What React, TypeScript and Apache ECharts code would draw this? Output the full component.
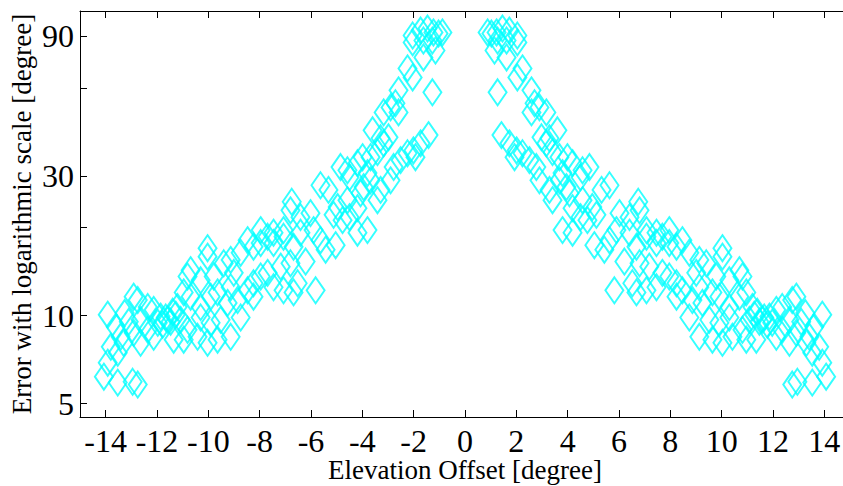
import React, { useEffect, useRef } from "react";
import * as echarts from "echarts";

const xTickValues = [-14, -12, -10, -8, -6, -4, -2, 0, 2, 4, 6, 8, 10, 12, 14];
const yTickValues = [5, 10, 20, 30, 60, 90];
const yLabelValues = [5, 10, 30, 90];

const leftPoints: [number, number][] = [
  [-2.04, 90.7], [-1.73, 94.3], [-1.46, 95.8], [-1.23, 92.9], [-1.03, 92.1], [-0.88, 92.9],
  [-1.62, 87.2], [-1.27, 87.2], [-2.04, 85.9], [-1.15, 80.6], [-1.62, 76.3], [-2.24, 70.0],
  [-2.04, 65.2], [-1.27, 58.0], [-2.59, 58.9], [-2.71, 53.2], [-2.59, 49.5], [-3.17, 49.5],
  [-2.9, 51.5], [-3.6, 43.0], [-3.29, 40.4], [-2.98, 40.7], [-1.42, 41.4], [-1.73, 38.8],
  [-2.01, 36.7], [-2.24, 35.9], [-1.93, 34.8], [-2.51, 34.0], [-2.78, 32.2], [-3.17, 38.8],
  [-3.41, 36.2], [-3.68, 34.8], [-3.99, 34.8], [-4.19, 33.2], [-4.58, 31.4], [-4.85, 32.2],
  [-4.5, 29.7], [-3.8, 30.7], [-3.68, 29.0], [-2.9, 29.0], [-3.29, 26.9], [-3.41, 24.8],
  [-3.95, 27.5], [-4.07, 26.2], [-5.63, 27.9], [-5.32, 26.9], [-4.58, 24.8], [-4.19, 23.3],
  [-4.96, 23.5], [-5.12, 22.1], [-4.77, 21.2], [-4.5, 21.7], [-3.8, 19.6], [-4.19, 19.2],
  [-6.8, 22.9], [-7.07, 19.6], [-6.41, 21.7], [-6.02, 22.4], [-5.9, 19.6], [-6.41, 19.2],
  [-5.63, 18.1], [-6.21, 15.3], [-5.82, 12.2], [-6.52, 12.9], [-5.43, 16.8], [-5.04, 17.4],
  [-10.03, 15.9], [-10.69, 14.3], [-10.81, 13.6], [-10.3, 13.2], [-9.79, 13.6], [-9.4, 15.1],
  [-9.13, 15.5], [-8.74, 16.4], [-8.47, 18.1], [-8.24, 17.2], [-7.96, 17.7], [-7.69, 18.6],
  [-7.46, 17.7], [-7.07, 18.6], [-6.68, 17.2], [-6.8, 15.1], [-7.18, 14.7], [-7.69, 14.0],
  [-7.96, 13.6], [-8.24, 12.9], [-8.47, 12.2], [-8.24, 11.6], [-7.46, 12.5], [-7.07, 12.2],
  [-6.68, 12.0], [-9.01, 14.0], [-9.13, 12.5], [-8.86, 11.3], [-9.25, 11.05], [-9.64, 12.0],
  [-9.91, 11.6], [-10.3, 10.7], [-10.69, 11.6], [-10.96, 12.0], [-11.2, 10.7], [-11.08, 9.67],
  [-10.81, 8.94], [-10.42, 8.46], [-10.03, 8.07], [-9.64, 8.27], [-9.13, 8.46], [-9.52, 9.67],
  [-9.91, 9.45], [-10.3, 9.85], [-8.74, 9.85], [-11.58, 9.67], [-11.86, 9.92], [-11.97, 9.45],
  [-12.13, 10.46], [-12.36, 10.7], [-12.64, 9.67], [-12.36, 8.94], [-12.13, 8.46], [-12.64, 8.07],
  [-12.91, 8.73], [-13.1, 9.52], [-12.75, 11.3], [-12.91, 11.6], [-13.26, 10.2], [-13.61, 9.15],
  [-13.92, 10.07], [-13.8, 7.82], [-13.53, 7.46], [-13.3, 8.07], [-13.42, 8.46], [-13.92, 6.9],
  [-14.07, 6.18], [-13.53, 5.9], [-12.95, 5.94], [-12.75, 5.81], [-11.35, 8.27], [-10.96, 8.27],
  [-7.46, 19.2], [-7.96, 19.6], [-10.03, 17.0], [-11.66, 9.85], [-11.47, 9.52], [-11.27, 10.07],
  [-11.78, 9.3], [-11.39, 10.3], [-6.75, 24.5],
];

const rightPoints: [number, number][] = [
  [2.04, 90.7], [1.73, 94.3], [1.46, 95.8], [1.23, 92.9], [1.03, 92.1], [0.88, 92.9],
  [1.62, 87.2], [1.27, 87.2], [2.04, 85.9], [1.15, 80.6], [1.62, 76.3], [2.24, 70.0],
  [2.04, 65.2], [1.27, 58.0], [2.59, 58.9], [2.71, 53.2], [2.59, 49.5], [3.17, 49.5],
  [2.9, 51.5], [3.6, 43.0], [3.29, 40.4], [2.98, 40.7], [1.42, 41.4], [1.73, 38.8],
  [2.01, 36.7], [2.24, 35.9], [1.93, 34.8], [2.51, 34.0], [2.78, 32.2], [3.17, 38.8],
  [3.41, 36.2], [3.68, 34.8], [3.99, 34.8], [4.19, 33.2], [4.58, 31.4], [4.85, 32.2],
  [4.5, 29.7], [3.8, 30.7], [3.68, 29.0], [2.9, 29.0], [3.29, 26.9], [3.41, 24.8],
  [3.95, 27.5], [4.07, 26.2], [5.63, 27.9], [5.32, 26.9], [4.58, 24.8], [4.19, 23.3],
  [4.96, 23.5], [5.12, 22.1], [4.77, 21.2], [4.5, 21.7], [3.8, 19.6], [4.19, 19.2],
  [6.8, 22.9], [7.07, 19.6], [6.41, 21.7], [6.02, 22.4], [5.9, 19.6], [6.41, 19.2],
  [5.63, 18.1], [6.21, 15.3], [5.82, 12.2], [6.52, 12.9], [5.43, 16.8], [5.04, 17.4],
  [10.03, 15.9], [10.69, 14.3], [10.81, 13.6], [10.3, 13.2], [9.79, 13.6], [9.4, 15.1],
  [9.13, 15.5], [8.74, 16.4], [8.47, 18.1], [8.24, 17.2], [7.96, 17.7], [7.69, 18.6],
  [7.46, 17.7], [7.07, 18.6], [6.68, 17.2], [6.8, 15.1], [7.18, 14.7], [7.69, 14.0],
  [7.96, 13.6], [8.24, 12.9], [8.47, 12.2], [8.24, 11.6], [7.46, 12.5], [7.07, 12.2],
  [6.68, 12.0], [9.01, 14.0], [9.13, 12.5], [8.86, 11.3], [9.25, 11.05], [9.64, 12.0],
  [9.91, 11.6], [10.3, 10.7], [10.69, 11.6], [10.96, 12.0], [11.2, 10.7], [11.08, 9.67],
  [10.81, 8.94], [10.42, 8.46], [10.03, 8.07], [9.64, 8.27], [9.13, 8.46], [9.52, 9.67],
  [9.91, 9.45], [10.3, 9.85], [8.74, 9.85], [11.58, 9.67], [11.86, 9.92], [11.97, 9.45],
  [12.13, 10.46], [12.36, 10.7], [12.64, 9.67], [12.36, 8.94], [12.13, 8.46], [12.64, 8.07],
  [12.91, 8.73], [13.1, 9.52], [12.75, 11.3], [12.91, 11.6], [13.26, 10.2], [13.61, 9.15],
  [13.92, 10.07], [13.8, 7.82], [13.53, 7.46], [13.3, 8.07], [13.42, 8.46], [13.92, 6.9],
  [14.07, 6.18], [13.53, 5.9], [12.95, 5.94], [12.75, 5.81], [11.35, 8.27], [10.96, 8.27],
  [7.46, 19.2], [7.96, 19.6], [10.03, 17.0], [11.66, 9.85], [11.47, 9.52], [11.27, 10.07],
  [11.78, 9.3], [11.39, 10.3], [6.75, 24.5],
];

const FONT = '"Liberation Serif", "Times New Roman", serif';
const CYAN = "#00FFFF";

export default function App() {
  const ref = useRef<HTMLDivElement>(null);
  useEffect(() => {
    if (!ref.current) return;
    const chart = echarts.init(ref.current, null, { renderer: "svg" });
    const axisLine = { show: true, onZero: false, lineStyle: { color: "#000", width: 1 } };
    const tick = (vals: number[]) => ({
      show: true,
      inside: true,
      length: 7,
      customValues: vals,
      lineStyle: { color: "#000", width: 1 },
    });
    const marker = {
      type: "scatter",
      symbol: "diamond",
      symbolSize: [18, 26],
      itemStyle: { color: "rgba(0,0,0,0)", borderColor: CYAN, borderWidth: 2 },
      clip: false,
    };
    chart.setOption({
      animation: false,
      backgroundColor: "#fff",
      grid: {
        left: 80,
        top: 11,
        width: 770,
        height: 406,
        containLabel: false,
        outerBoundsMode: "none",
      },
      xAxis: [
        {
          type: "value",
          min: -15,
          max: 15,
          position: "bottom",
          axisLine,
          axisTick: tick(xTickValues),
          splitLine: { show: false },
          axisLabel: {
            customValues: xTickValues,
            fontFamily: FONT,
            fontSize: 32,
            lineHeight: 28,
            color: "#000",
            margin: 10,
          },
          name: "Elevation Offset [degree]",
          nameLocation: "middle",
          nameGap: 41,
          nameMoveOverlap: false,
          nameTextStyle: { fontFamily: FONT, fontSize: 27, lineHeight: 24, color: "#000" },
        },
        {
          type: "value",
          min: -15,
          max: 15,
          position: "top",
          axisLine,
          axisTick: tick(xTickValues),
          splitLine: { show: false },
          axisLabel: { show: false },
        },
      ],
      yAxis: [
        {
          type: "log",
          logBase: 10,
          min: 4.5,
          max: 110,
          position: "left",
          axisLine,
          axisTick: tick(yTickValues),
          minorTick: { show: false },
          splitLine: { show: false },
          axisLabel: {
            customValues: yLabelValues,
            fontFamily: FONT,
            fontSize: 32,
            color: "#000",
            margin: 6,
          },
          name: "Error with logarithmic scale [degree]",
          nameLocation: "middle",
          nameGap: 45,
          nameMoveOverlap: false,
          nameTextStyle: { fontFamily: FONT, fontSize: 27, color: "#000" },
        },
        {
          type: "log",
          logBase: 10,
          min: 4.5,
          max: 110,
          position: "right",
          axisLine,
          axisTick: tick(yTickValues),
          minorTick: { show: false },
          splitLine: { show: false },
          axisLabel: { show: false },
        },
      ],
      series: [
        { ...marker, name: "negative offset", data: leftPoints },
        { ...marker, name: "positive offset", data: rightPoints },
      ],
    });
    return () => chart.dispose();
  }, []);
  return (
    <div
      ref={ref}
      style={{ position: "absolute", left: 0, top: 0, width: 843, height: 486 }}
    />
  );
}
